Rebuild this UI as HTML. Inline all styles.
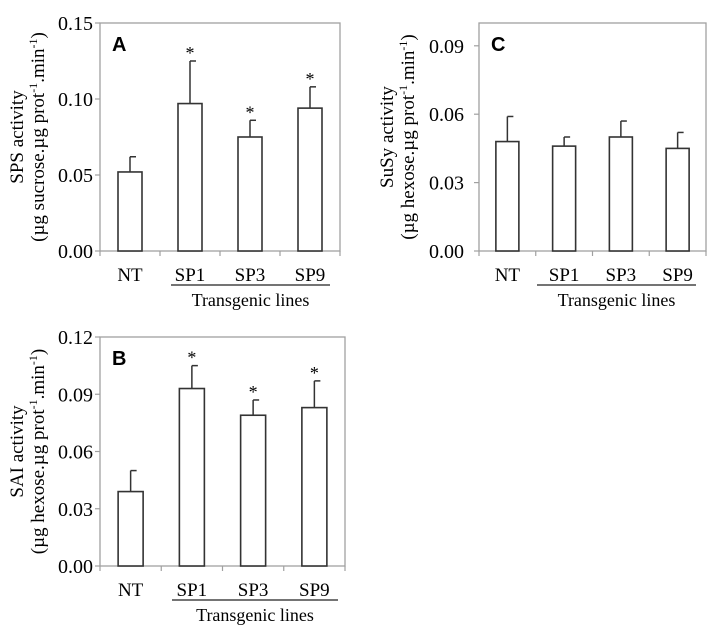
<!DOCTYPE html>
<html><head><meta charset="utf-8"><style>
body{margin:0;background:#fff;}
svg{display:block;font-family:"Liberation Serif",serif;}
</style></head><body>
<svg id="chart" width="725" height="639"></svg>
<script>
const categories = ["NT","SP1","SP3","SP9"];
const spsValues = [0.052,0.097,0.075,0.094];
const spsErrors = [0.010,0.028,0.011,0.014];
const saiValues = [0.039,0.093,0.079,0.083];
const saiErrors = [0.011,0.012,0.008,0.014];
const susyValues = [0.048,0.046,0.050,0.045];
const susyErrors = [0.011,0.004,0.007,0.007];
const spsTicks = ["0.00","0.05","0.10","0.15"];
const saiTicks = ["0.00","0.03","0.06","0.09","0.12"];
const susyTicks = ["0.00","0.03","0.06","0.09"];
const sigA = [false,true,true,true];
const sigB = [false,true,true,true];
const sigC = [false,false,false,false];

const NS="http://www.w3.org/2000/svg";
const svg=document.getElementById('chart');
function mk(tag,attrs,parent,text){const e=document.createElementNS(NS,tag);for(const k in attrs)e.setAttribute(k,attrs[k]);if(text!==undefined)e.textContent=text;(parent||svg).appendChild(e);return e;}

function panel(o){
  const g=mk('g',{});
  
  
  const {x0,x1,y0,y1,max,vals,errs,ticks,sig,bw}=o;
  const y=v=>y1-(v/max)*(y1-y0);
  const cw=(x1-x0)/categories.length;
  const frame=mk('rect',{x:x0,y:y0,width:x1-x0,height:y1-y0,fill:'none',stroke:'#a0a0a0','stroke-width':1.3},g);
  
  
  ticks.forEach(t=>{
    const yy=y(parseFloat(t));
    mk('line',{x1:x0-5,x2:x0,y1:yy,y2:yy,stroke:'#a0a0a0','stroke-width':1.2},g);
    const tl=mk('text',{x:x0-o.tickOff,y:yy+7,'text-anchor':'end','font-size':20},g,t);
    
    
  });
  for(let i=0;i<=categories.length;i++){
    const xx=x0+i*cw;
    mk('line',{x1:xx,x2:xx,y1:y1,y2:y1+5,stroke:'#a0a0a0','stroke-width':1.2},g);
  }
  categories.forEach((c,i)=>{
    const cx=x0+(i+0.5)*cw;
    const top=y(vals[i]), et=y(vals[i]+errs[i]);
    const el=mk('line',{x1:cx,x2:cx,y1:top,y2:et,stroke:'#333','stroke-width':1.5},g);
    
    
    mk('line',{x1:cx,x2:cx+6,y1:et,y2:et,stroke:'#333','stroke-width':1.5},g);
    const b=mk('rect',{x:cx-bw/2,y:top,width:bw,height:y1-top,fill:'#fff',stroke:'#333','stroke-width':1.6},g);
    
    
    if(sig[i]){
      const s=mk('text',{x:cx,y:et-2,'text-anchor':'middle','font-size':18},g,'*');
      
      
    }
    const l=mk('text',{x:cx,y:y1+30,'text-anchor':'middle','font-size':19},g,c);
    
    
  });
  const ul=mk('line',{x1:o.ulx1,x2:o.ulx2,y1:y1+34,y2:y1+34,stroke:'#222','stroke-width':1.3},g);
  
  
  const tg=mk('text',{x:(o.ulx1+o.ulx2)/2,y:y1+55,'text-anchor':'middle','font-size':18},g,'Transgenic lines');
  
  
  const lt=mk('text',{x:x0+12,y:y0+28,'font-size':20,'font-weight':'bold','font-family':'"Liberation Sans",sans-serif'},g,o.letter);
  
  
  const cy=(y0+y1)/2;
  const t1=mk('text',{transform:`translate(${o.tx1},${cy}) rotate(-90)`,'text-anchor':'middle','font-size':19},g,o.title);
  
  
  const t2=mk('text',{transform:`translate(${o.tx1+21},${cy}) rotate(-90)`,'text-anchor':'middle','font-size':19},g);
  
  
  t2.innerHTML=`(µg ${o.unit}.µg prot<tspan dy="-7" font-size="12">-1</tspan><tspan dy="7">.min</tspan><tspan dy="-7" font-size="12">-1</tspan><tspan dy="7">)</tspan>`;
}

panel({letter:'A',x0:100,x1:340,y0:23,y1:251,max:0.15,vals:spsValues,errs:spsErrors,ticks:spsTicks,sig:sigA,bw:24,ulx1:171,ulx2:330,tx1:23,tickOff:7,title:'SPS activity',unit:'sucrose'});
panel({letter:'C',x0:479,x1:706,y0:23,y1:251,max:0.10,vals:susyValues,errs:susyErrors,ticks:susyTicks,sig:sigC,bw:23,ulx1:537,ulx2:696,tx1:393,tickOff:15,title:'SuSy activity',unit:'hexose'});
panel({letter:'B',x0:100,x1:345,y0:337,y1:566,max:0.12,vals:saiValues,errs:saiErrors,ticks:saiTicks,sig:sigB,bw:25,ulx1:172,ulx2:338,tx1:23,tickOff:7,title:'SAI activity',unit:'hexose'});
</script>
</body></html>
